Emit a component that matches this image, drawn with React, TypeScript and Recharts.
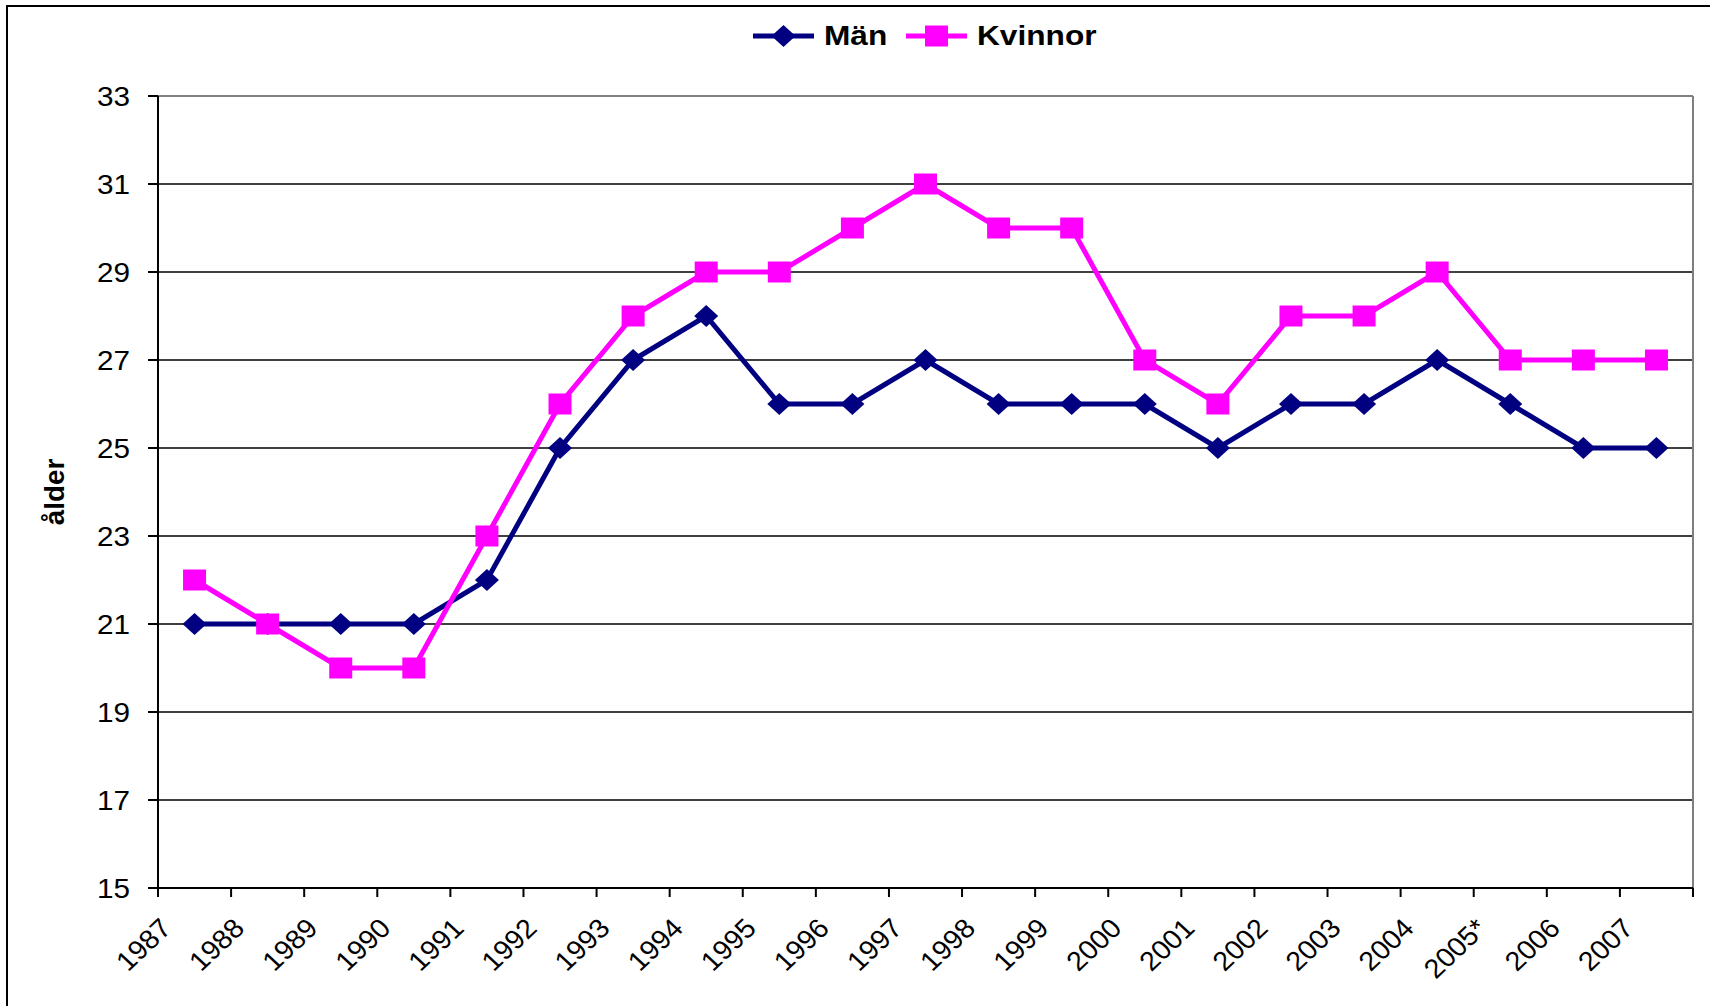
import React from "react";
import {
  CartesianGrid,
  Legend,
  Line,
  LineChart,
  ReferenceLine,
  XAxis,
  YAxis,
} from "recharts";

const years = [
  "1987", "1988", "1989", "1990", "1991", "1992", "1993", "1994", "1995", "1996",
  "1997", "1998", "1999", "2000", "2001", "2002", "2003", "2004", "2005*", "2006", "2007",
];
const man = [21, 21, 21, 21, 22, 25, 27, 28, 26, 26, 27, 26, 26, 26, 25, 26, 26, 27, 26, 25, 25];
const kvinnor = [22, 21, 20, 20, 23, 26, 28, 29, 29, 30, 31, 30, 30, 27, 26, 28, 28, 29, 27, 27, 27];
const yTicks = [15, 17, 19, 21, 23, 25, 27, 29, 31, 33];

const NAVY = "#000080";
const MAGENTA = "#FF00FF";
const FONT = "'Liberation Sans', Arial, sans-serif";

// points sit between the tick marks, like the Excel original
const data = years.map((year, i) => ({ pos: i + 0.5, year, man: man[i], kvinnor: kvinnor[i] }));
const xTicks = years.map((_, i) => i).concat(years.length);

function Diamond(props: any) {
  const { cx, cy } = props;
  if (cx == null || cy == null) return null;
  return (
    <polygon
      points={`${cx - 12},${cy} ${cx},${cy - 11} ${cx + 12},${cy} ${cx},${cy + 11}`}
      fill={NAVY}
    />
  );
}

function Square(props: any) {
  const { cx, cy } = props;
  if (cx == null || cy == null) return null;
  return <rect x={cx - 11.5} y={cy - 10.5} width={23} height={21} fill={MAGENTA} />;
}

function YearTick(props: any) {
  const { x, y, payload } = props;
  const label = years[payload.value] ?? "";
  const ax = x + 15;
  const ay = y + 31;
  return (
    <text
      x={0}
      y={0}
      textAnchor="end"
      fontSize={27}
      fontFamily={FONT}
      fill="#000"
      transform={`translate(${ax}, ${ay}) scale(1.06, 1) rotate(-45)`}
    >
      {label}
    </text>
  );
}

function AgeTick(props: any) {
  const { x, y, payload } = props;
  return (
    <text
      transform={`translate(${x}, ${y}) scale(1.1, 1)`}
      textAnchor="end"
      dominantBaseline="central"
      fontSize={27}
      fontFamily={FONT}
      fill="#000"
    >
      {payload.value}
    </text>
  );
}

function LegendContent() {
  const item = (color: string, label: string, marker: React.ReactNode, gap: number) => (
    <div style={{ display: "flex", alignItems: "center", marginRight: gap }}>
      <svg width={61} height={24} style={{ display: "block" }}>
        <line x1={0} y1={12} x2={61} y2={12} stroke={color} strokeWidth={5} />
        {marker}
      </svg>
      <span
        style={{
          fontFamily: FONT,
          fontWeight: "bold",
          fontSize: 28,
          marginLeft: 10,
          display: "inline-block",
          transform: "scaleX(1.13)",
          transformOrigin: "left center",
        }}
      >
        {label}
      </span>
    </div>
  );
  return (
    <div style={{ display: "flex", alignItems: "center" }}>
      {item(NAVY, "Män", <polygon points="18.5,12 30.5,1 42.5,12 30.5,23" fill={NAVY} />, 26)}
      {item(MAGENTA, "Kvinnor", <rect x={19} y={1.5} width={23} height={21} fill={MAGENTA} />, 0)}
    </div>
  );
}

export default function App() {
  return (
    <div style={{ position: "absolute", left: 0, top: 0, width: 1710, height: 1006, background: "#fff" }}>
      <div
        style={{
          position: "absolute",
          left: 6,
          top: 5,
          width: 1720,
          height: 1020,
          borderTop: "2px solid #000",
          borderLeft: "2px solid #000",
        }}
      />
      <LineChart
        width={1710}
        height={1006}
        data={data}
        margin={{ top: 96, right: 17, bottom: 0, left: 0 }}
      >
        <CartesianGrid horizontal vertical={false} stroke="#000" strokeWidth={1.5} />
        <XAxis
          dataKey="pos"
          type="number"
          domain={[0, years.length]}
          ticks={xTicks}
          interval={0}
          height={118}
          tickSize={9}
          tick={<YearTick />}
          axisLine={{ stroke: "#000", strokeWidth: 2 }}
          tickLine={{ stroke: "#000", strokeWidth: 2 }}
        />
        <YAxis
          domain={[15, 33]}
          ticks={yTicks}
          interval={0}
          width={158}
          tickSize={10}
          tickMargin={18}
          tick={<AgeTick />}
          axisLine={{ stroke: "#000", strokeWidth: 2 }}
          tickLine={{ stroke: "#000", strokeWidth: 2 }}
          label={{
            content: (p: any) => {
              const vb = p.viewBox;
              const cy = vb.y + vb.height / 2;
              return (
                <text
                  x={0}
                  y={0}
                  transform={`translate(64, ${cy}) scale(1, 1.03) rotate(-90)`}
                  textAnchor="middle"
                  fontSize={27}
                  fontWeight="bold"
                  fontFamily={FONT}
                  fill="#000"
                >
                  ålder
                </text>
              );
            },
          }}
        />
        <ReferenceLine y={33} stroke="#808080" strokeWidth={2} />
        <ReferenceLine x={years.length} stroke="#808080" strokeWidth={2} />
        <Legend
          verticalAlign="middle"
          content={<LegendContent />}
          wrapperStyle={{ top: 20, left: 753, width: "auto" }}
        />
        <Line
          dataKey="man"
          name="Män"
          stroke={NAVY}
          strokeWidth={5}
          dot={<Diamond />}
          activeDot={false}
          isAnimationActive={false}
        />
        <Line
          dataKey="kvinnor"
          name="Kvinnor"
          stroke={MAGENTA}
          strokeWidth={5}
          dot={<Square />}
          activeDot={false}
          isAnimationActive={false}
        />
      </LineChart>
    </div>
  );
}
